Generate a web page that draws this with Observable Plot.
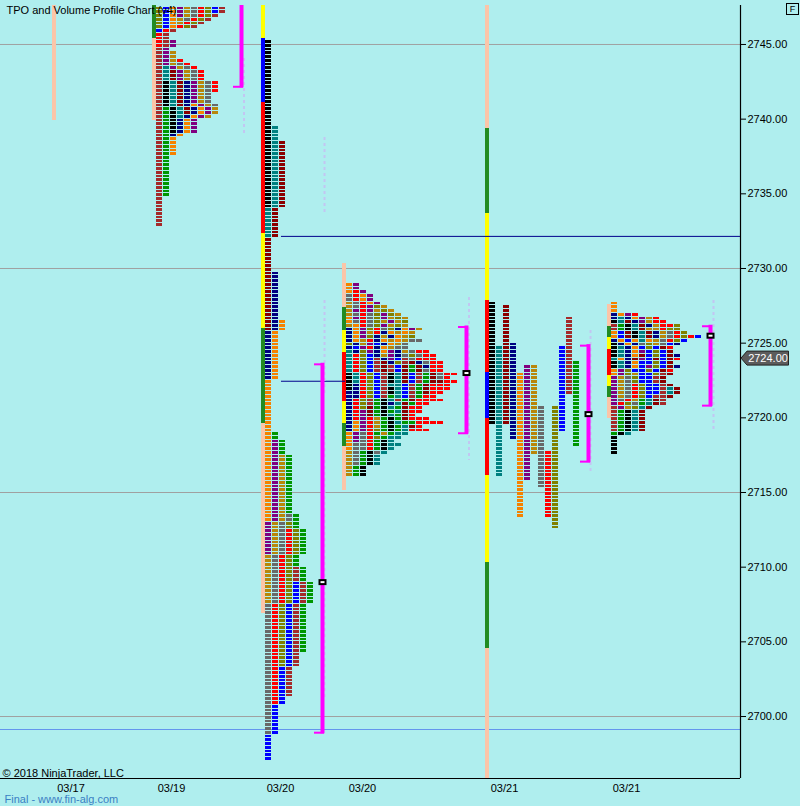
<!DOCTYPE html>
<html><head><meta charset="utf-8">
<script src="https://cdn.jsdelivr.net/npm/d3@7"></script>
<script src="https://cdn.jsdelivr.net/npm/@observablehq/plot@0.6"></script>
<style>
html,body{margin:0;padding:0;background:#AFEEEE;}
#chart{position:relative;width:800px;height:806px;overflow:hidden;}
#fbox{position:absolute;left:786px;top:3px;width:11px;height:10px;border:1px solid #000;font:9px "Liberation Sans",Arial,sans-serif;text-align:center;line-height:10px;color:#000;}
</style></head><body><div id="chart"><div id="fbox">F</div></div>
<script>
// ---------- DATA ----------
// TPO period letters (A..M) -> period color category
const periodLetters = "ABCDEFGHIJKLM";
// session left-bar slots (time slots, 1 slot = one TPO column)
const sessionSlots = [7.43, 21.71, 37.29, 48.86, 69.29, 86.71];
// profile left bar segments: [segment code, high, low]
const p0Bar = [["S", 2750, 2739.9]];
const p1Bar = [["G", 2750, 2745.4], ["S", 2745.4, 2739.9]];
const p2Bar = [["Y", 2750, 2745.4], ["B", 2745.4, 2741.1], ["R", 2741.1, 2732.35], ["Y", 2732.35, 2726.0], ["G", 2726.0, 2719.6], ["S", 2719.6, 2706.9]];
const p3Bar = [["S", 2730.35, 2727.4], ["G", 2727.4, 2725.85], ["Y", 2725.85, 2724.4], ["R", 2724.4, 2721.1], ["Y", 2721.1, 2719.6], ["G", 2719.6, 2718.1], ["S", 2718.1, 2715.15]];
const p4Bar = [["S", 2750, 2739.4], ["G", 2739.4, 2733.7], ["Y", 2733.7, 2727.85], ["R", 2727.85, 2723.05], ["B", 2723.05, 2719.95], ["R", 2719.95, 2716.15], ["Y", 2716.15, 2710.3], ["G", 2710.3, 2704.55], ["S", 2704.55, 2690]];
const p5Bar = [["S", 2727.6, 2726.1], ["G", 2726.1, 2725.4], ["Y", 2725.4, 2724.6], ["R", 2724.6, 2722.85], ["Y", 2722.85, 2722.1], ["G", 2722.1, 2721.35], ["S", 2721.35, 2719.95]];

// periods: [letter, high, low] in time order
const p1Periods = [
  ["L", 2747.5, 2746.25], ["M", 2747.5, 2746.0], ["G", 2747.5, 2746.25], ["H", 2747.5, 2747.0], ["I", 2747.5, 2746.5],
  ["J", 2747.5, 2746.75], ["K", 2747.5, 2746.25], ["L", 2747.5, 2746.25], ["M", 2747.5, 2747.25], ["A", 2747.5, 2746.25],
  ["K", 2746.0, 2745.0], ["A", 2746.0, 2733.0], ["B", 2740.75, 2735.0], ["C", 2742.5, 2739.25], ["D", 2743.5, 2740.25],
  ["E", 2743.25, 2740.5], ["F", 2742.5, 2739.0], ["G", 2741.0, 2737.75], ["H", 2745.25, 2739.25], ["I", 2744.5, 2740.25],
  ["J", 2743.75, 2741.0], ["K", 2744.0, 2742.0]
];
const p2Periods = [
  ["C", 2745.25, 2734.25], ["D", 2739.5, 2732.25], ["E", 2738.5, 2726.0], ["F", 2729.75, 2722.75], ["G", 2726.5, 2713.25],
  ["H", 2718.5, 2711.0], ["I", 2717.5, 2707.75], ["J", 2713.5, 2699.0], ["K", 2712.5, 2701.0], ["L", 2713.0, 2703.5],
  ["M", 2709.0, 2697.25], ["A", 2710.0, 2701.5], ["B", 2719.0, 2704.5]
];
// split profile (one column per period)
const p4Periods = [
  ["C", 2727.75, 2719.75], ["D", 2724.75, 2716.25], ["E", 2727.5, 2719.75], ["F", 2725.0, 2718.75], ["G", 2723.0, 2713.5],
  ["H", 2723.5, 2716.0], ["I", 2723.5, 2717.75], ["J", 2720.75, 2715.5], ["K", 2717.75, 2713.5], ["L", 2720.75, 2712.75],
  ["M", 2724.75, 2719.25], ["A", 2726.75, 2721.75], ["B", 2723.75, 2718.25]
];
// letter rows (top row price given)
const p3Top = 2729.0;
const p3Rows = ["GH","GH","GKH","JKGH","JKGH","IJKGH","IJKHLI","IHKHILI","IJKJLHLI","GHKJLHILI","GJKJLIHIL","IGKJLHILI",
  "FGHLKJLFGHI","FGHIKFGIGI","FGHLFIFGIL","FGIKFGIGIJJ","LFIHMFGIJ","FMHKFGIJJ","DFLHFGHFIJKK","DKLMFIHFJLJKK",
  "DKLMAFHMAJKKK","DKLMAEFLAEFJKK","DKLMAEAMEBEFKK","DKLMAEAMEBEJKK","CDKLMACDEMABEJKK","CDKLMACDEMABEJK",
  "CDKLMACDEMABEEKK","CFKLMADDMABEKKK","CFKLMACDMABEKKK","FFKLMACDMABEKK","FFKLMABDMABKK","FKLABCDABEKKKK",
  "FKLABCFDEBKK","FKLEBCDBEKK","FKHEBCBDEKK","FKHEBCDBEK","FKHKIBCBEKKK","FGHKIBCDBBKKKK","FGHKIBCBDEK",
  "FGHKLBCBDKKK","GHJKBIBDD","GHJKLBDD","GHJKBCD","GJJKBCDD","GJJKBCD","IJBCJD","IJBCD","IJBCD","IJBCD","IBC","IBC","IBC"];
const p5Top = 2727.75;
const p5Rows = ["G","G","G","FGHK","FDFGHIK","CDEFHIKK","ABCDEFIKKL","ABCDEIIKLL","GMECDEFIJKL","GMECDEFIJKLKM",
  "FGMGDGIJKLM","CFGFJLIJMF","CDFGMLMEK","CDFGHMLME","CDFGEMLMEF","DGFEHMEMEK","CDFGMMLME","CDFGMHLMEF",
  "GHLMMLMEK","GHLIMMLAE","HIJLMMAE","HIJLMMAE","HIJKLMMAE","HIJKLMMADE","HIJKLMMADE","HIJKLMAAE","HJKIBDEA",
  "HKLJBDEA","AHILDE","ABCDE","ABCDE","ABCDE","ABCDE","ABCDE","ABCDE","BCD","C","C","C","C","C"];

// value areas: [slot, high, low, poc]
const valueAreas = [[34.43, 2750, 2742.1, null], [46.0, 2723.65, 2698.85, 2709.0], [66.57, 2726.15, 2718.9, 2723.0],
  [84.0, 2724.9, 2717.0, 2720.25], [101.43, 2726.2, 2720.75, 2725.5]];
// faint volume traces: [slot, high, low]
const volumeTraces = [[34.79, 2744.06, 2738.84], [46.29, 2738.77, 2733.68], [46.29, 2727.86, 2721.5], [46.29, 2719.15, 2701.07],
  [66.93, 2728.06, 2717.14], [84.29, 2725.85, 2716.34], [101.86, 2727.86, 2719.15]];
// horizontal level lines: [price, fromSlot, toSlot]
const levelLines = [[2732.15, 40.14, 105.72], [2722.45, 40.14, 49.29]];
const gridPrices = [2745, 2730, 2715, 2700];
const blueLevel = 2699.13;
const lastPrice = 2724.00;
const yTicks = [2700, 2705, 2710, 2715, 2720, 2725, 2730, 2735, 2740, 2745];
const dateLabels = ["03/17", "03/19", "03/20", "03/20", "03/21", "03/21"];
const dateSlots = [10.07, 24.43, 40.0, 51.71, 72.0, 89.43];

// ---------- STYLE ----------
const tpoColor = {A:"#A52A2A",B:"#009600",C:"#000000",D:"#008080",E:"#8B0000",F:"#000080",G:"#F58200",H:"#800080",I:"#B8860B",J:"#696969",K:"#FF0000",L:"#808000",M:"#0000FF"};
const barColor = {S:"#FBC5A8", G:"#228B22", Y:"#FFFF00", R:"#FF0000", B:"#0000FF"};
const barW = 4/7;

// ---------- BUILD ----------
const cells = [];
function packed(periods, start) {
  const hiQ = Math.round(d3.max(periods, d => d[1]) * 4), loQ = Math.round(d3.min(periods, d => d[2]) * 4);
  for (let q = hiQ; q >= loQ; q--) {
    let c = 0;
    for (const [L, hi, lo] of periods) if (q <= Math.round(hi*4) && q >= Math.round(lo*4)) cells.push({col: start + c++, price: q/4, L});
  }
}
function split(periods, start) {
  periods.forEach(([L, hi, lo], i) => {
    for (let q = Math.round(hi*4); q >= Math.round(lo*4); q--) cells.push({col: start + i, price: q/4, L});
  });
}
function lettered(rows, top, start) {
  rows.forEach((s, r) => [...s].forEach((L, c) => cells.push({col: start + c, price: top - r*0.25, L})));
}
packed(p1Periods, sessionSlots[1] + barW);
packed(p2Periods, sessionSlots[2] + barW);
lettered(p3Rows, p3Top, sessionSlots[3] + barW);
split(p4Periods, sessionSlots[4] + barW);
lettered(p5Rows, p5Top, sessionSlots[5] + barW);

const bars = [];
[p0Bar, p1Bar, p2Bar, p3Bar, p4Bar, p5Bar].forEach((segs, i) => segs.forEach(([k, hi, lo]) => bars.push({slot: sessionSlots[i], k, hi, lo})));

const xMax = 740/7;
const yDom = [2695.85, 2747.61];
const font = '"Liberation Sans", Arial, sans-serif';

const rectSym = (w, h) => ({draw(ctx){ ctx.moveTo(-w/2,-h/2); ctx.lineTo(w/2,-h/2); ctx.lineTo(w/2,h/2); ctx.lineTo(-w/2,h/2); ctx.closePath(); }});
const tagSym = {draw(ctx){ ctx.moveTo(0.5,0); ctx.lineTo(6.5,-7); ctx.lineTo(48,-7); ctx.lineTo(48,7); ctx.lineTo(6.5,7); ctx.closePath(); }};
const pocs = valueAreas.filter(d => d[3] != null);

const chart = Plot.plot({
  width: 800, height: 806,
  marginLeft: 0, marginRight: 60, marginTop: 5, marginBottom: 28,
  style: {background: "#AFEEEE", fontFamily: font, fontSize: "11px", color: "#000", overflow: "visible"},
  x: {domain: [0, xMax], axis: null},
  y: {domain: yDom},
  marks: [
    Plot.ruleY(gridPrices, {stroke: "#A0A0A0", strokeWidth: 1}),
    Plot.ruleY([blueLevel], {stroke: "#6495ED", strokeWidth: 1}),
    Plot.rect(bars, {x1: "slot", x2: d => d.slot + barW, y1: "hi", y2: "lo", fill: d => barColor[d.k], clip: true, shapeRendering: "crispEdges"}),
    Plot.rect(cells, {x1: "col", x2: d => d.col + 1, y1: "price", y2: d => d.price - 0.25, insetRight: 1, insetBottom: 1, fill: d => tpoColor[d.L], clip: true, shapeRendering: "crispEdges"}),
    Plot.ruleY(levelLines, {y: d => d[0], x1: d => d[1], x2: d => d[2], stroke: "#00008B", strokeWidth: 1}),
    Plot.ruleX(volumeTraces, {x: d => d[0], y1: d => d[1], y2: d => d[2], stroke: "#C2C6F2", strokeWidth: 2, strokeDasharray: "3,3"}),
    Plot.ruleX(valueAreas, {x: d => d[0], y1: d => d[1], y2: d => d[2], stroke: "#FF00FF", strokeWidth: 4, clip: true}),
    Plot.ruleY(valueAreas, {y: d => d[1], x1: d => d[0] - 8/7, x2: d => d[0] + 2/7, dy: 1, stroke: "#FF00FF", strokeWidth: 2, clip: true}),
    Plot.ruleY(valueAreas, {y: d => d[2], x1: d => d[0] - 8/7, x2: d => d[0] + 2/7, dy: -1, stroke: "#FF00FF", strokeWidth: 2, clip: true}),
    Plot.dot(pocs, {x: d => d[0], y: d => d[3], symbol: rectSym(8, 6), fill: "#000", stroke: "none"}),
    Plot.dot(pocs, {x: d => d[0], y: d => d[3], symbol: rectSym(4, 2), fill: "#FFF", stroke: "none"}),
    Plot.ruleX([xMax], {stroke: "#000", strokeWidth: 1.2}),
    Plot.ruleY([yDom[0]], {stroke: "#000", strokeWidth: 1.2}),
    Plot.axisY({anchor: "right", ticks: yTicks, tickFormat: d => d.toFixed(2), tickSize: 5, tickPadding: 2, fontSize: 11, stroke: "#000"}),
    Plot.dot([lastPrice], {x: xMax, y: d => d, symbol: tagSym, fill: "#5C5C5C", stroke: "#222", strokeWidth: 1}),
    Plot.text([lastPrice], {x: xMax, y: d => d, text: d => d.toFixed(2), dx: 27.5, fill: "#FFF", fontSize: 11}),
    Plot.text(dateSlots, {x: d => d, frameAnchor: "bottom", dy: 10, lineAnchor: "middle", text: (d, i) => dateLabels[i], fontSize: 11}),
    Plot.text(["TPO and Volume Profile Chart (v4)"], {frameAnchor: "top-left", dx: 6, dy: 1, textAnchor: "start", fontSize: 11}),
    Plot.text(["© 2018 NinjaTrader, LLC"], {frameAnchor: "bottom-left", dx: 2, dy: -5, lineAnchor: "middle", textAnchor: "start", fontSize: 11}),
    Plot.text(["Final - www.fin-alg.com"], {frameAnchor: "bottom-left", dx: 4, dy: 21, lineAnchor: "middle", textAnchor: "start", fontSize: 11, fill: "#3A80C4"})
  ]
});
document.getElementById("chart").prepend(chart);
</script></body></html>
